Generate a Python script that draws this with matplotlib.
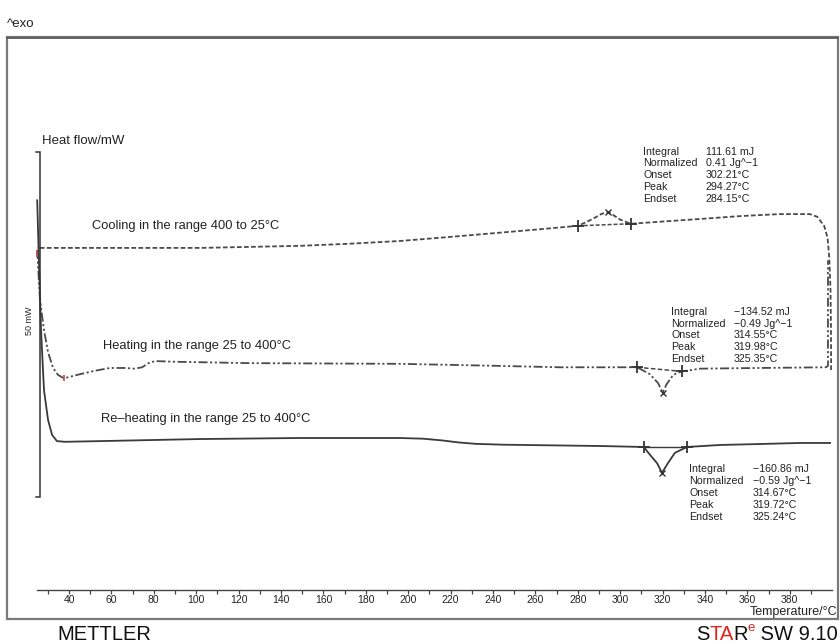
import matplotlib
matplotlib.use("Agg")
import matplotlib.pyplot as plt
from matplotlib.patches import Rectangle

plt.rcParams["font.family"] = ["Liberation Sans", "DejaVu Sans"]

# ---------------- data (temperature in °C, heat flow in mW) ----------------
cool_T = [399.5, 399.4, 399.2, 398.6, 397.8, 396.2, 393.0, 389.5, 375.0, 356.0,
          338.0, 319.0, 305.0, 300.0, 296.5, 294.27, 291.0, 287.0, 283.0, 280.0,
          262.0, 243.0, 220.0, 196.0, 172.0, 149.0, 102.0, 55.0, 25.0]
cool_mW = [18.4, 25.0, 30.0, 34.8, 37.6, 39.3, 40.6, 41.0, 41.0, 40.7,
           40.3, 39.9, 39.6, 40.2, 40.9, 41.3, 41.0, 40.3, 39.7, 39.3,
           38.8, 38.3, 37.7, 37.1, 36.7, 36.4, 36.1, 36.1, 36.1]

heat_T = [25.0, 26.3, 28.2, 30.1, 32.5, 34.8, 37.6, 45.2, 52.3, 59.3,
          66.4, 71.0, 74.5, 77.5, 80.6, 90.0, 125.4, 196.1, 243.3, 271.6, 308.0,
          314.0, 317.9, 319.98, 322.0, 324.8, 326.3, 329.2, 337.6, 366.0, 397.0,
          398.0, 398.0, 398.0]
heat_mW = [35.8, 28.6, 24.2, 21.0, 18.7, 17.7, 17.2, 17.8, 18.3, 18.7,
           18.7, 18.6, 18.8, 19.4, 19.7, 19.6, 19.4, 19.3, 19.0, 18.8, 18.8,
           17.8, 16.5, 15.1, 16.4, 17.6, 17.9, 18.2, 18.6, 18.7, 18.8,
           19.0, 28.6, 34.3]

reheat_T = [25.0, 25.8, 26.8, 28.2, 30.1, 32.0, 34.3, 38.1, 54.6, 101.8,
            149.0, 196.1, 207.0, 216.0, 224.0, 232.0, 245.0, 290.5, 311.2, 313.0,
            317.4, 319.72, 322.5, 325.8, 331.5, 347.1, 366.0, 384.8, 399.0]
reheat_mW = [43.0, 34.3, 24.2, 15.5, 11.2, 9.0, 8.1, 8.0, 8.1, 8.4,
             8.55, 8.55, 8.45, 8.2, 7.9, 7.7, 7.58, 7.39, 7.25, 6.5,
             4.9, 3.5, 4.9, 6.4, 7.25, 7.54, 7.68, 7.83, 7.83]

# integration limits (start, end) of each evaluated peak
cool_limits_T = [280.0, 305.0]
cool_limits_mW = [39.3, 39.6]
heat_limits_T = [308.0, 329.2]
heat_limits_mW = [18.8, 18.2]
reheat_limits_T = [311.2, 331.5]
reheat_limits_mW = [7.25, 7.25]

peak_T = [294.27, 319.98, 319.72]
peak_mW = [41.3, 15.1, 3.5]

eval_names = ["Integral", "Normalized", "Onset", "Peak", "Endset"]
cool_eval = ["111.61 mJ", "0.41 Jg^\u22121", "302.21\u00b0C", "294.27\u00b0C", "284.15\u00b0C"]
heat_eval = ["\u2212134.52 mJ", "\u22120.49 Jg^\u22121", "314.55\u00b0C", "319.98\u00b0C", "325.35\u00b0C"]
reheat_eval = ["\u2212160.86 mJ", "\u22120.59 Jg^\u22121", "314.67\u00b0C", "319.72\u00b0C", "325.24\u00b0C"]

curve_labels = ["Cooling in the range 400 to 25\u00b0C",
                "Heating in the range 25 to 400\u00b0C",
                "Re\u2013heating in the range 25 to 400\u00b0C"]

x_major = list(range(40, 400, 20))
x_minor = list(range(30, 400, 20))

# ---------------- figure ----------------
W, H = 840, 644
fig = plt.figure(figsize=(W / 100, H / 100), dpi=100)


def fx(px):
    return px / W


def fy(py):
    return 1 - py / H


# outer frame
fig.patches.append(Rectangle((fx(7), fy(619)), (838 - 7) / W, (619 - 37) / H,
                             transform=fig.transFigure, fill=False,
                             edgecolor="#7a7a7a", lw=1.6))
fig.add_artist(plt.Line2D([fx(7), fx(838)], [fy(37.5), fy(37.5)],
                          transform=fig.transFigure, color="#555555", lw=1.2))

# plot area: x axis line at y=590 px, scale 6.9 px per mW with 0 mW at y=497 px
ax_left, ax_right = 37.2, 832.2
ax_bottom, ax_top = 590, 130
ax = fig.add_axes([fx(ax_left), fy(ax_bottom), (ax_right - ax_left) / W,
                   (ax_bottom - ax_top) / H])
ax.set_xlim(25, 400)
ax.set_ylim((497 - ax_bottom) / 6.9, (497 - ax_top) / 6.9)
ax.patch.set_alpha(0)
for s in ["top", "right", "left"]:
    ax.spines[s].set_visible(False)
ax.spines["bottom"].set_color("#444444")
ax.spines["bottom"].set_linewidth(1.0)
ax.set_yticks([])
ax.set_xticks(x_major)
ax.set_xticks(x_minor, minor=True)
ax.tick_params(axis="x", which="both", direction="out", length=3, width=0.9,
               color="#444444", labelsize=7.5, pad=0.5, labelcolor="#222222")

line_col = "#4a4a4a"
cool_ls = (0, (2.6, 1.3))
heat_ls = (0, (5, 1.4, 1.2, 1.4, 1.2, 1.4))

ax.plot(cool_T, cool_mW, color=line_col, lw=1.3, ls=cool_ls, clip_on=False)
ax.plot(heat_T, heat_mW, color=line_col, lw=1.3, ls=heat_ls, clip_on=False)
ax.plot(reheat_T, reheat_mW, color="#3a3a3a", lw=1.3, clip_on=False)

# baselines between integration limits
ax.plot(cool_limits_T, cool_limits_mW, color=line_col, lw=1.1, ls=cool_ls)
ax.plot(heat_limits_T, heat_limits_mW, color=line_col, lw=1.1, ls=(0, (3, 1.5)))
ax.plot(reheat_limits_T, reheat_limits_mW, color="#3a3a3a", lw=1.0)

# limit and peak markers
for lt, lm in [(cool_limits_T, cool_limits_mW), (heat_limits_T, heat_limits_mW),
               (reheat_limits_T, reheat_limits_mW)]:
    ax.plot(lt, lm, ls="none", marker="+", ms=8, mew=1.3, color="#333333")
ax.plot(peak_T, peak_mW, ls="none", marker="x", ms=4, mew=1.0, color="#333333")

# small red start marks
ax.plot([25.0], [35.2], ls="none", marker="|", ms=4, mew=1.2, color="#d04848", clip_on=False)
ax.plot([37.8], [17.2], ls="none", marker="|", ms=4, mew=1.2, color="#d04848", clip_on=False)

# heat flow scale bar (50 mW)
bar_T = 26.4
tick_T = 24.6
ax.plot([tick_T, bar_T, bar_T, tick_T], [50, 50, 0, 0], color="#333333", lw=1.1,
        clip_on=False, solid_joinstyle="miter")

# ---------------- texts ----------------
fig.text(fx(7), fy(24), "^exo", fontsize=9.5, va="center", ha="left", color="#222222")
fig.text(fx(42), fy(141), "Heat flow/mW", fontsize=9.5, va="center", ha="left", color="#222222")
fig.text(fx(30), fy(321), "50 mW", fontsize=6.5, va="center", ha="center",
         rotation=90, color="#222222")

for (px, py), lab in zip([(92, 226), (103, 346), (101, 419)], curve_labels):
    fig.text(fx(px), fy(py), lab, fontsize=9.3, va="center", ha="left", color="#222222")

for lx, vx, rows, vals in [(643, 706, [152, 163.5, 175, 187, 199], cool_eval),
                           (671, 734, [312, 324, 335.5, 347, 359], heat_eval),
                           (689, 753, [469, 481, 493, 505, 517], reheat_eval)]:
    for ry, name, val in zip(rows, eval_names, vals):
        fig.text(fx(lx), fy(ry), name, fontsize=7.7, va="center", ha="left", color="#222222")
        fig.text(fx(vx), fy(ry), val, fontsize=7.7, va="center", ha="left", color="#222222")

fig.text(fx(837), fy(611.5), "Temperature/\u00b0C", fontsize=9.0, va="center", ha="right",
         color="#222222")

fig.text(fx(57), fy(634), "METTLER", fontsize=14.5, va="center", ha="left", color="#111111")

# software badge drawn right to left from its pieces
renderer = fig.canvas.get_renderer()
badge = [(" SW 9.10", "#111111", 14.5, 0), ("e", "#e0241c", 9.5, 6),
         ("R", "#111111", 14.5, 0), ("TA", "#e0241c", 14.5, 0), ("S", "#111111", 14.5, 0)]
right = 838.0
for txt, col, fs, rise in badge:
    t = fig.text(fx(right), fy(634 - rise), txt, fontsize=fs, va="center", ha="right", color=col)
    bb = t.get_window_extent(renderer=renderer)
    right -= bb.width

fig.savefig("out.png", dpi=100)
